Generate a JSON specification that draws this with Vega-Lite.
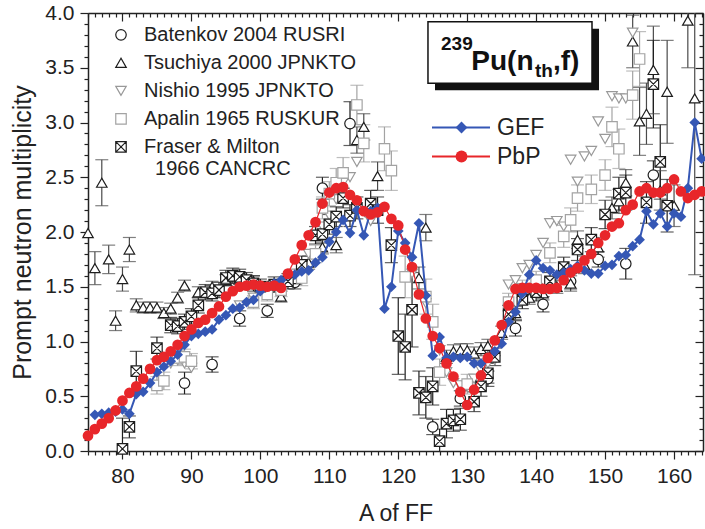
{
"$schema": "https://vega.github.io/schema/vega-lite/v6.json",
"width": 615, "height": 438,
"autosize": {"type": "none"},
"padding": {"left": 88, "top": 13, "right": 2, "bottom": 78},
"background": "white",
"config": {
  "view": {"stroke": null},
  "font": "Liberation Sans",
  "axis": {"grid": false, "labelFont": "Liberation Sans", "labelFontSize": 21, "labelColor": "#222222", "titleFont": "Liberation Sans", "titleFontSize": 23, "titleFontWeight": "normal", "titleColor": "#222222", "domainColor": "#222222", "domainWidth": 1.5, "tickColor": "#222222", "tickWidth": 1.2, "labelOverlap": false, "labelFlush": false},
  "legend": {"labelFont": "Liberation Sans", "labelColor": "#222222"}
},
"datasets": {
"exp": [
{"set":"Batenkov 2004 RUSRI","A":89,"v":0.62,"lo":0.52,"hi":0.72},
{"set":"Batenkov 2004 RUSRI","A":93,"v":0.79,"lo":0.72,"hi":0.86},
{"set":"Batenkov 2004 RUSRI","A":97,"v":1.21,"lo":1.14,"hi":1.28},
{"set":"Batenkov 2004 RUSRI","A":101,"v":1.28,"lo":1.22,"hi":1.34},
{"set":"Batenkov 2004 RUSRI","A":105,"v":1.54,"lo":1.48,"hi":1.60},
{"set":"Batenkov 2004 RUSRI","A":109,"v":2.40,"lo":2.30,"hi":2.50},
{"set":"Batenkov 2004 RUSRI","A":113,"v":2.99,"lo":2.79,"hi":3.19},
{"set":"Batenkov 2004 RUSRI","A":125,"v":0.22,"lo":0.15,"hi":0.29},
{"set":"Batenkov 2004 RUSRI","A":129,"v":0.48,"lo":0.41,"hi":0.55},
{"set":"Batenkov 2004 RUSRI","A":133,"v":0.66,"lo":0.59,"hi":0.73},
{"set":"Batenkov 2004 RUSRI","A":137,"v":1.12,"lo":1.05,"hi":1.19},
{"set":"Batenkov 2004 RUSRI","A":141,"v":1.34,"lo":1.27,"hi":1.41},
{"set":"Batenkov 2004 RUSRI","A":145,"v":1.55,"lo":1.48,"hi":1.62},
{"set":"Batenkov 2004 RUSRI","A":149,"v":1.75,"lo":1.68,"hi":1.82},
{"set":"Batenkov 2004 RUSRI","A":153,"v":1.71,"lo":1.57,"hi":1.85},
{"set":"Batenkov 2004 RUSRI","A":157,"v":2.52,"lo":2.39,"hi":2.65},
{"set":"Tsuchiya 2000 JPNKTO","A":75,"v":1.99},
{"set":"Tsuchiya 2000 JPNKTO","A":76,"v":1.67,"lo":1.52,"hi":1.82},
{"set":"Tsuchiya 2000 JPNKTO","A":77,"v":2.45,"lo":2.24,"hi":2.66},
{"set":"Tsuchiya 2000 JPNKTO","A":78,"v":1.75,"lo":1.62,"hi":1.88},
{"set":"Tsuchiya 2000 JPNKTO","A":79,"v":1.19,"lo":1.10,"hi":1.28},
{"set":"Tsuchiya 2000 JPNKTO","A":80,"v":1.57,"lo":1.46,"hi":1.68},
{"set":"Tsuchiya 2000 JPNKTO","A":81,"v":1.84,"lo":1.73,"hi":1.95},
{"set":"Tsuchiya 2000 JPNKTO","A":82,"v":1.33,"lo":1.27,"hi":1.39},
{"set":"Tsuchiya 2000 JPNKTO","A":83,"v":1.31,"lo":1.26,"hi":1.36},
{"set":"Tsuchiya 2000 JPNKTO","A":84,"v":1.31,"lo":1.26,"hi":1.36},
{"set":"Tsuchiya 2000 JPNKTO","A":85,"v":1.31,"lo":1.26,"hi":1.36},
{"set":"Tsuchiya 2000 JPNKTO","A":86,"v":1.26,"lo":1.21,"hi":1.31},
{"set":"Tsuchiya 2000 JPNKTO","A":87,"v":1.30,"lo":1.25,"hi":1.35},
{"set":"Tsuchiya 2000 JPNKTO","A":88,"v":1.40,"lo":1.35,"hi":1.45},
{"set":"Tsuchiya 2000 JPNKTO","A":89,"v":1.51,"lo":1.46,"hi":1.56},
{"set":"Tsuchiya 2000 JPNKTO","A":91,"v":1.45,"lo":1.40,"hi":1.50},
{"set":"Tsuchiya 2000 JPNKTO","A":93,"v":1.50,"lo":1.45,"hi":1.55},
{"set":"Tsuchiya 2000 JPNKTO","A":95,"v":1.56,"lo":1.51,"hi":1.61},
{"set":"Tsuchiya 2000 JPNKTO","A":97,"v":1.58,"lo":1.53,"hi":1.63},
{"set":"Tsuchiya 2000 JPNKTO","A":99,"v":1.55,"lo":1.50,"hi":1.60},
{"set":"Tsuchiya 2000 JPNKTO","A":101,"v":1.50,"lo":1.45,"hi":1.55},
{"set":"Tsuchiya 2000 JPNKTO","A":103,"v":1.41,"lo":1.36,"hi":1.46},
{"set":"Tsuchiya 2000 JPNKTO","A":105,"v":1.57,"lo":1.52,"hi":1.62},
{"set":"Tsuchiya 2000 JPNKTO","A":107,"v":1.72,"lo":1.66,"hi":1.78},
{"set":"Tsuchiya 2000 JPNKTO","A":109,"v":1.86,"lo":1.80,"hi":1.92},
{"set":"Tsuchiya 2000 JPNKTO","A":111,"v":1.88,"lo":1.81,"hi":1.95},
{"set":"Tsuchiya 2000 JPNKTO","A":114,"v":2.84,"lo":2.72,"hi":2.96},
{"set":"Tsuchiya 2000 JPNKTO","A":115,"v":2.96,"lo":2.84,"hi":3.08},
{"set":"Tsuchiya 2000 JPNKTO","A":117,"v":2.51,"lo":2.38,"hi":2.64},
{"set":"Tsuchiya 2000 JPNKTO","A":123,"v":1.58,"lo":1.48,"hi":1.68},
{"set":"Tsuchiya 2000 JPNKTO","A":124,"v":2.04,"lo":1.92,"hi":2.16},
{"set":"Tsuchiya 2000 JPNKTO","A":127,"v":0.86,"lo":0.80,"hi":0.92},
{"set":"Tsuchiya 2000 JPNKTO","A":128,"v":0.91,"lo":0.85,"hi":0.97},
{"set":"Tsuchiya 2000 JPNKTO","A":129,"v":0.92,"lo":0.86,"hi":0.98},
{"set":"Tsuchiya 2000 JPNKTO","A":130,"v":0.92,"lo":0.86,"hi":0.98},
{"set":"Tsuchiya 2000 JPNKTO","A":131,"v":0.89,"lo":0.83,"hi":0.95},
{"set":"Tsuchiya 2000 JPNKTO","A":132,"v":0.93,"lo":0.87,"hi":0.99},
{"set":"Tsuchiya 2000 JPNKTO","A":133,"v":0.96,"lo":0.90,"hi":1.02},
{"set":"Tsuchiya 2000 JPNKTO","A":135,"v":1.08,"lo":1.02,"hi":1.14},
{"set":"Tsuchiya 2000 JPNKTO","A":137,"v":1.26,"lo":1.20,"hi":1.32},
{"set":"Tsuchiya 2000 JPNKTO","A":139,"v":1.40,"lo":1.34,"hi":1.46},
{"set":"Tsuchiya 2000 JPNKTO","A":141,"v":1.44,"lo":1.38,"hi":1.50},
{"set":"Tsuchiya 2000 JPNKTO","A":143,"v":1.50,"lo":1.44,"hi":1.56},
{"set":"Tsuchiya 2000 JPNKTO","A":145,"v":1.53,"lo":1.46,"hi":1.60},
{"set":"Tsuchiya 2000 JPNKTO","A":146,"v":1.93,"lo":1.85,"hi":2.01},
{"set":"Tsuchiya 2000 JPNKTO","A":147,"v":1.70,"lo":1.62,"hi":1.78},
{"set":"Tsuchiya 2000 JPNKTO","A":149,"v":1.86,"lo":1.77,"hi":1.95},
{"set":"Tsuchiya 2000 JPNKTO","A":151,"v":2.22,"lo":2.12,"hi":2.32},
{"set":"Tsuchiya 2000 JPNKTO","A":152,"v":2.28,"lo":2.17,"hi":2.39},
{"set":"Tsuchiya 2000 JPNKTO","A":153,"v":2.45,"lo":2.33,"hi":2.57},
{"set":"Tsuchiya 2000 JPNKTO","A":154,"v":3.74,"lo":3.50,"hi":3.98},
{"set":"Tsuchiya 2000 JPNKTO","A":155,"v":3.01,"lo":2.70,"hi":3.32},
{"set":"Tsuchiya 2000 JPNKTO","A":156,"v":3.08,"lo":2.80,"hi":3.36},
{"set":"Tsuchiya 2000 JPNKTO","A":157,"v":3.48,"lo":3.08,"hi":3.88},
{"set":"Tsuchiya 2000 JPNKTO","A":158,"v":2.38,"lo":2.20,"hi":2.56},
{"set":"Tsuchiya 2000 JPNKTO","A":159,"v":3.28,"lo":2.81,"hi":3.75},
{"set":"Tsuchiya 2000 JPNKTO","A":160,"v":2.24,"lo":2.05,"hi":2.43},
{"set":"Tsuchiya 2000 JPNKTO","A":162,"v":3.93,"lo":3.50,"hi":4.36},
{"set":"Tsuchiya 2000 JPNKTO","A":163,"v":3.22,"lo":1.61,"hi":4.83},
{"set":"Nishio 1995 JPNKTO","A":86,"v":0.78},
{"set":"Nishio 1995 JPNKTO","A":87,"v":0.80},
{"set":"Nishio 1995 JPNKTO","A":88,"v":0.83},
{"set":"Nishio 1995 JPNKTO","A":89,"v":0.80},
{"set":"Nishio 1995 JPNKTO","A":90,"v":0.76},
{"set":"Nishio 1995 JPNKTO","A":97,"v":1.33},
{"set":"Nishio 1995 JPNKTO","A":99,"v":1.40},
{"set":"Nishio 1995 JPNKTO","A":101,"v":1.45},
{"set":"Nishio 1995 JPNKTO","A":103,"v":1.50},
{"set":"Nishio 1995 JPNKTO","A":105,"v":1.62},
{"set":"Nishio 1995 JPNKTO","A":107,"v":1.80},
{"set":"Nishio 1995 JPNKTO","A":109,"v":2.05},
{"set":"Nishio 1995 JPNKTO","A":110,"v":2.15},
{"set":"Nishio 1995 JPNKTO","A":111,"v":2.30},
{"set":"Nishio 1995 JPNKTO","A":112,"v":2.45},
{"set":"Nishio 1995 JPNKTO","A":113,"v":2.50},
{"set":"Nishio 1995 JPNKTO","A":114,"v":2.64},
{"set":"Nishio 1995 JPNKTO","A":116,"v":2.10},
{"set":"Nishio 1995 JPNKTO","A":122,"v":1.62},
{"set":"Nishio 1995 JPNKTO","A":124,"v":1.35},
{"set":"Nishio 1995 JPNKTO","A":126,"v":0.92},
{"set":"Nishio 1995 JPNKTO","A":127,"v":0.72},
{"set":"Nishio 1995 JPNKTO","A":128,"v":0.62},
{"set":"Nishio 1995 JPNKTO","A":129,"v":0.60},
{"set":"Nishio 1995 JPNKTO","A":130,"v":0.60},
{"set":"Nishio 1995 JPNKTO","A":131,"v":0.66},
{"set":"Nishio 1995 JPNKTO","A":132,"v":0.74},
{"set":"Nishio 1995 JPNKTO","A":133,"v":0.80},
{"set":"Nishio 1995 JPNKTO","A":134,"v":0.83},
{"set":"Nishio 1995 JPNKTO","A":136,"v":1.52},
{"set":"Nishio 1995 JPNKTO","A":137,"v":1.56},
{"set":"Nishio 1995 JPNKTO","A":138,"v":1.67},
{"set":"Nishio 1995 JPNKTO","A":139,"v":1.70},
{"set":"Nishio 1995 JPNKTO","A":140,"v":1.79},
{"set":"Nishio 1995 JPNKTO","A":141,"v":1.90},
{"set":"Nishio 1995 JPNKTO","A":142,"v":2.08},
{"set":"Nishio 1995 JPNKTO","A":143,"v":2.10},
{"set":"Nishio 1995 JPNKTO","A":144,"v":2.05},
{"set":"Nishio 1995 JPNKTO","A":145,"v":2.66},
{"set":"Nishio 1995 JPNKTO","A":146,"v":2.46},
{"set":"Nishio 1995 JPNKTO","A":147,"v":2.69},
{"set":"Nishio 1995 JPNKTO","A":148,"v":2.74},
{"set":"Nishio 1995 JPNKTO","A":149,"v":3.01},
{"set":"Nishio 1995 JPNKTO","A":150,"v":2.85},
{"set":"Nishio 1995 JPNKTO","A":151,"v":3.24},
{"set":"Nishio 1995 JPNKTO","A":152,"v":3.22},
{"set":"Nishio 1995 JPNKTO","A":153,"v":3.22},
{"set":"Nishio 1995 JPNKTO","A":154,"v":3.82},
{"set":"Apalin 1965 RUSKUR","A":85,"v":0.60,"lo":0.52,"hi":0.68},
{"set":"Apalin 1965 RUSKUR","A":86,"v":0.64,"lo":0.56,"hi":0.72},
{"set":"Apalin 1965 RUSKUR","A":88,"v":0.85,"lo":0.78,"hi":0.92},
{"set":"Apalin 1965 RUSKUR","A":89,"v":0.86,"lo":0.79,"hi":0.93},
{"set":"Apalin 1965 RUSKUR","A":90,"v":0.82,"lo":0.75,"hi":0.89},
{"set":"Apalin 1965 RUSKUR","A":99,"v":1.36,"lo":1.30,"hi":1.42},
{"set":"Apalin 1965 RUSKUR","A":101,"v":1.43,"lo":1.37,"hi":1.49},
{"set":"Apalin 1965 RUSKUR","A":103,"v":1.47,"lo":1.41,"hi":1.53},
{"set":"Apalin 1965 RUSKUR","A":106,"v":1.58,"lo":1.51,"hi":1.65},
{"set":"Apalin 1965 RUSKUR","A":108,"v":1.80,"lo":1.72,"hi":1.88},
{"set":"Apalin 1965 RUSKUR","A":109,"v":2.22,"lo":2.12,"hi":2.32},
{"set":"Apalin 1965 RUSKUR","A":110,"v":2.35,"lo":2.24,"hi":2.46},
{"set":"Apalin 1965 RUSKUR","A":111,"v":2.45,"lo":2.32,"hi":2.58},
{"set":"Apalin 1965 RUSKUR","A":112,"v":2.54,"lo":2.40,"hi":2.68},
{"set":"Apalin 1965 RUSKUR","A":114,"v":3.16,"lo":2.98,"hi":3.34},
{"set":"Apalin 1965 RUSKUR","A":115,"v":2.81,"lo":2.64,"hi":2.98},
{"set":"Apalin 1965 RUSKUR","A":118,"v":2.76,"lo":2.56,"hi":2.96},
{"set":"Apalin 1965 RUSKUR","A":119,"v":2.56,"lo":2.38,"hi":2.74},
{"set":"Apalin 1965 RUSKUR","A":121,"v":1.59,"lo":1.40,"hi":1.78},
{"set":"Apalin 1965 RUSKUR","A":124,"v":1.41,"lo":1.25,"hi":1.57},
{"set":"Apalin 1965 RUSKUR","A":125,"v":1.18,"lo":1.02,"hi":1.34},
{"set":"Apalin 1965 RUSKUR","A":126,"v":0.72,"lo":0.60,"hi":0.84},
{"set":"Apalin 1965 RUSKUR","A":130,"v":0.61,"lo":0.52,"hi":0.70},
{"set":"Apalin 1965 RUSKUR","A":136,"v":1.36,"lo":1.28,"hi":1.44},
{"set":"Apalin 1965 RUSKUR","A":138,"v":1.48,"lo":1.40,"hi":1.56},
{"set":"Apalin 1965 RUSKUR","A":140,"v":1.56,"lo":1.48,"hi":1.64},
{"set":"Apalin 1965 RUSKUR","A":142,"v":1.81,"lo":1.72,"hi":1.90},
{"set":"Apalin 1965 RUSKUR","A":144,"v":1.96,"lo":1.86,"hi":2.06},
{"set":"Apalin 1965 RUSKUR","A":145,"v":2.11,"lo":2.00,"hi":2.22},
{"set":"Apalin 1965 RUSKUR","A":146,"v":2.31,"lo":2.19,"hi":2.43},
{"set":"Apalin 1965 RUSKUR","A":148,"v":2.39,"lo":2.26,"hi":2.52},
{"set":"Apalin 1965 RUSKUR","A":150,"v":2.52,"lo":2.38,"hi":2.66},
{"set":"Apalin 1965 RUSKUR","A":151,"v":2.96,"lo":2.78,"hi":3.14},
{"set":"Apalin 1965 RUSKUR","A":152,"v":2.76,"lo":2.58,"hi":2.94},
{"set":"Apalin 1965 RUSKUR","A":154,"v":3.25,"lo":3.03,"hi":3.47},
{"set":"Apalin 1965 RUSKUR","A":155,"v":3.58,"lo":3.33,"hi":3.83},
{"set":"Fraser & Milton 1966 CANCRC","A":80,"v":0.02,"lo":-0.26,"hi":0.30},
{"set":"Fraser & Milton 1966 CANCRC","A":81,"v":0.22,"lo":0.12,"hi":0.32},
{"set":"Fraser & Milton 1966 CANCRC","A":82,"v":0.73,"lo":0.55,"hi":0.91},
{"set":"Fraser & Milton 1966 CANCRC","A":85,"v":0.94,"lo":0.84,"hi":1.04},
{"set":"Fraser & Milton 1966 CANCRC","A":87,"v":1.15,"lo":1.08,"hi":1.22},
{"set":"Fraser & Milton 1966 CANCRC","A":88,"v":1.14,"lo":1.07,"hi":1.21},
{"set":"Fraser & Milton 1966 CANCRC","A":89,"v":1.18,"lo":1.11,"hi":1.25},
{"set":"Fraser & Milton 1966 CANCRC","A":90,"v":1.23,"lo":1.16,"hi":1.30},
{"set":"Fraser & Milton 1966 CANCRC","A":91,"v":1.33,"lo":1.26,"hi":1.40},
{"set":"Fraser & Milton 1966 CANCRC","A":92,"v":1.45,"lo":1.38,"hi":1.52},
{"set":"Fraser & Milton 1966 CANCRC","A":93,"v":1.44,"lo":1.37,"hi":1.51},
{"set":"Fraser & Milton 1966 CANCRC","A":94,"v":1.47,"lo":1.40,"hi":1.54},
{"set":"Fraser & Milton 1966 CANCRC","A":95,"v":1.58,"lo":1.51,"hi":1.65},
{"set":"Fraser & Milton 1966 CANCRC","A":96,"v":1.60,"lo":1.53,"hi":1.67},
{"set":"Fraser & Milton 1966 CANCRC","A":97,"v":1.59,"lo":1.52,"hi":1.66},
{"set":"Fraser & Milton 1966 CANCRC","A":98,"v":1.56,"lo":1.49,"hi":1.63},
{"set":"Fraser & Milton 1966 CANCRC","A":99,"v":1.53,"lo":1.46,"hi":1.60},
{"set":"Fraser & Milton 1966 CANCRC","A":100,"v":1.50,"lo":1.43,"hi":1.57},
{"set":"Fraser & Milton 1966 CANCRC","A":102,"v":1.52,"lo":1.45,"hi":1.59},
{"set":"Fraser & Milton 1966 CANCRC","A":104,"v":1.55,"lo":1.48,"hi":1.62},
{"set":"Fraser & Milton 1966 CANCRC","A":106,"v":1.70,"lo":1.62,"hi":1.78},
{"set":"Fraser & Milton 1966 CANCRC","A":108,"v":1.97,"lo":1.89,"hi":2.05},
{"set":"Fraser & Milton 1966 CANCRC","A":109,"v":1.98,"lo":1.90,"hi":2.06},
{"set":"Fraser & Milton 1966 CANCRC","A":110,"v":2.07,"lo":1.98,"hi":2.16},
{"set":"Fraser & Milton 1966 CANCRC","A":111,"v":2.14,"lo":2.05,"hi":2.23},
{"set":"Fraser & Milton 1966 CANCRC","A":112,"v":2.31,"lo":2.22,"hi":2.40},
{"set":"Fraser & Milton 1966 CANCRC","A":113,"v":2.15,"lo":2.05,"hi":2.25},
{"set":"Fraser & Milton 1966 CANCRC","A":114,"v":2.22,"lo":2.12,"hi":2.32},
{"set":"Fraser & Milton 1966 CANCRC","A":116,"v":2.26,"lo":2.14,"hi":2.38},
{"set":"Fraser & Milton 1966 CANCRC","A":117,"v":2.20,"lo":2.08,"hi":2.32},
{"set":"Fraser & Milton 1966 CANCRC","A":119,"v":1.88,"lo":1.72,"hi":2.04},
{"set":"Fraser & Milton 1966 CANCRC","A":120,"v":1.05,"lo":0.70,"hi":1.40},
{"set":"Fraser & Milton 1966 CANCRC","A":121,"v":0.95,"lo":0.65,"hi":1.25},
{"set":"Fraser & Milton 1966 CANCRC","A":122,"v":1.29,"lo":0.95,"hi":1.63},
{"set":"Fraser & Milton 1966 CANCRC","A":123,"v":0.53,"lo":0.33,"hi":0.73},
{"set":"Fraser & Milton 1966 CANCRC","A":124,"v":0.49,"lo":0.30,"hi":0.68},
{"set":"Fraser & Milton 1966 CANCRC","A":125,"v":0.59,"lo":0.42,"hi":0.76},
{"set":"Fraser & Milton 1966 CANCRC","A":126,"v":0.09,"lo":-0.02,"hi":0.20},
{"set":"Fraser & Milton 1966 CANCRC","A":127,"v":0.25,"lo":0.12,"hi":0.38},
{"set":"Fraser & Milton 1966 CANCRC","A":128,"v":0.28,"lo":0.18,"hi":0.38},
{"set":"Fraser & Milton 1966 CANCRC","A":129,"v":0.29,"lo":0.19,"hi":0.39},
{"set":"Fraser & Milton 1966 CANCRC","A":131,"v":0.45,"lo":0.36,"hi":0.54},
{"set":"Fraser & Milton 1966 CANCRC","A":132,"v":0.59,"lo":0.50,"hi":0.68},
{"set":"Fraser & Milton 1966 CANCRC","A":133,"v":0.71,"lo":0.62,"hi":0.80},
{"set":"Fraser & Milton 1966 CANCRC","A":134,"v":0.86,"lo":0.78,"hi":0.94},
{"set":"Fraser & Milton 1966 CANCRC","A":136,"v":1.25,"lo":1.17,"hi":1.33},
{"set":"Fraser & Milton 1966 CANCRC","A":138,"v":1.38,"lo":1.30,"hi":1.46},
{"set":"Fraser & Milton 1966 CANCRC","A":140,"v":1.45,"lo":1.37,"hi":1.53},
{"set":"Fraser & Milton 1966 CANCRC","A":142,"v":1.55,"lo":1.47,"hi":1.63},
{"set":"Fraser & Milton 1966 CANCRC","A":144,"v":1.68,"lo":1.59,"hi":1.77},
{"set":"Fraser & Milton 1966 CANCRC","A":146,"v":1.84,"lo":1.74,"hi":1.94},
{"set":"Fraser & Milton 1966 CANCRC","A":148,"v":1.93,"lo":1.82,"hi":2.04},
{"set":"Fraser & Milton 1966 CANCRC","A":150,"v":2.16,"lo":2.03,"hi":2.29},
{"set":"Fraser & Milton 1966 CANCRC","A":152,"v":2.35,"lo":2.20,"hi":2.50},
{"set":"Fraser & Milton 1966 CANCRC","A":153,"v":2.36,"lo":2.20,"hi":2.52},
{"set":"Fraser & Milton 1966 CANCRC","A":156,"v":2.27,"lo":2.08,"hi":2.46},
{"set":"Fraser & Milton 1966 CANCRC","A":157,"v":3.35,"lo":2.95,"hi":3.75},
{"set":"Fraser & Milton 1966 CANCRC","A":158,"v":2.64,"lo":2.30,"hi":2.98},
{"set":"Fraser & Milton 1966 CANCRC","A":159,"v":2.24,"lo":2.00,"hi":2.48}
],
"model": [
{"model":"GEF","A":76,"v":0.33},{"model":"GEF","A":77,"v":0.34},{"model":"GEF","A":78,"v":0.35},{"model":"GEF","A":79,"v":0.36},{"model":"GEF","A":80,"v":0.38},
{"model":"GEF","A":81,"v":0.34},{"model":"GEF","A":82,"v":0.52},{"model":"GEF","A":83,"v":0.54},{"model":"GEF","A":84,"v":0.62},{"model":"GEF","A":85,"v":0.72},
{"model":"GEF","A":86,"v":0.77},{"model":"GEF","A":87,"v":0.82},{"model":"GEF","A":88,"v":0.88},{"model":"GEF","A":89,"v":0.97},{"model":"GEF","A":90,"v":1.05},
{"model":"GEF","A":91,"v":1.07},{"model":"GEF","A":92,"v":1.09},{"model":"GEF","A":93,"v":1.11},{"model":"GEF","A":94,"v":1.20},{"model":"GEF","A":95,"v":1.24},
{"model":"GEF","A":96,"v":1.30},{"model":"GEF","A":97,"v":1.31},{"model":"GEF","A":98,"v":1.36},{"model":"GEF","A":99,"v":1.38},{"model":"GEF","A":100,"v":1.46},
{"model":"GEF","A":101,"v":1.50},{"model":"GEF","A":102,"v":1.53},{"model":"GEF","A":103,"v":1.56},{"model":"GEF","A":104,"v":1.61},{"model":"GEF","A":105,"v":1.61},
{"model":"GEF","A":106,"v":1.64},{"model":"GEF","A":107,"v":1.65},{"model":"GEF","A":108,"v":1.72},{"model":"GEF","A":109,"v":1.77},{"model":"GEF","A":110,"v":1.91},
{"model":"GEF","A":111,"v":2.00},{"model":"GEF","A":112,"v":2.11},{"model":"GEF","A":113,"v":1.99},{"model":"GEF","A":114,"v":2.20},{"model":"GEF","A":115,"v":1.97},
{"model":"GEF","A":116,"v":2.19},{"model":"GEF","A":117,"v":2.22},{"model":"GEF","A":118,"v":1.30},{"model":"GEF","A":119,"v":1.50},{"model":"GEF","A":120,"v":2.01},
{"model":"GEF","A":121,"v":1.90},{"model":"GEF","A":122,"v":1.77},{"model":"GEF","A":123,"v":2.08},{"model":"GEF","A":124,"v":1.42},{"model":"GEF","A":125,"v":0.87},
{"model":"GEF","A":126,"v":1.04},{"model":"GEF","A":127,"v":0.85},{"model":"GEF","A":128,"v":0.86},{"model":"GEF","A":129,"v":0.85},{"model":"GEF","A":130,"v":0.86},
{"model":"GEF","A":131,"v":0.80},{"model":"GEF","A":132,"v":0.80},{"model":"GEF","A":133,"v":0.85},{"model":"GEF","A":134,"v":0.91},{"model":"GEF","A":135,"v":0.98},
{"model":"GEF","A":136,"v":1.18},{"model":"GEF","A":137,"v":1.27},{"model":"GEF","A":138,"v":1.44},{"model":"GEF","A":139,"v":1.61},{"model":"GEF","A":140,"v":1.74},
{"model":"GEF","A":141,"v":1.67},{"model":"GEF","A":142,"v":1.65},{"model":"GEF","A":143,"v":1.61},{"model":"GEF","A":144,"v":1.63},{"model":"GEF","A":145,"v":1.66},
{"model":"GEF","A":146,"v":1.69},{"model":"GEF","A":147,"v":1.65},{"model":"GEF","A":148,"v":1.62},{"model":"GEF","A":149,"v":1.62},{"model":"GEF","A":150,"v":1.69},
{"model":"GEF","A":151,"v":1.70},{"model":"GEF","A":152,"v":1.78},{"model":"GEF","A":153,"v":1.79},{"model":"GEF","A":154,"v":1.87},{"model":"GEF","A":155,"v":1.93},
{"model":"GEF","A":156,"v":2.19},{"model":"GEF","A":157,"v":2.07},{"model":"GEF","A":158,"v":2.17},{"model":"GEF","A":159,"v":2.05},{"model":"GEF","A":160,"v":2.17},
{"model":"GEF","A":161,"v":2.14},{"model":"GEF","A":162,"v":2.40},{"model":"GEF","A":163,"v":3.00},{"model":"GEF","A":164,"v":2.67},
{"model":"PbP","A":75,"v":0.14},{"model":"PbP","A":76,"v":0.20},{"model":"PbP","A":77,"v":0.25},{"model":"PbP","A":78,"v":0.30},{"model":"PbP","A":79,"v":0.37},
{"model":"PbP","A":80,"v":0.46},{"model":"PbP","A":81,"v":0.53},{"model":"PbP","A":82,"v":0.59},{"model":"PbP","A":83,"v":0.66},{"model":"PbP","A":84,"v":0.75},
{"model":"PbP","A":85,"v":0.83},{"model":"PbP","A":86,"v":0.86},{"model":"PbP","A":87,"v":0.91},{"model":"PbP","A":88,"v":0.97},{"model":"PbP","A":89,"v":1.05},
{"model":"PbP","A":90,"v":1.11},{"model":"PbP","A":91,"v":1.17},{"model":"PbP","A":92,"v":1.20},{"model":"PbP","A":93,"v":1.26},{"model":"PbP","A":94,"v":1.32},
{"model":"PbP","A":95,"v":1.41},{"model":"PbP","A":96,"v":1.46},{"model":"PbP","A":97,"v":1.50},{"model":"PbP","A":98,"v":1.51},{"model":"PbP","A":99,"v":1.52},
{"model":"PbP","A":100,"v":1.51},{"model":"PbP","A":101,"v":1.50},{"model":"PbP","A":102,"v":1.51},{"model":"PbP","A":103,"v":1.49},{"model":"PbP","A":104,"v":1.62},
{"model":"PbP","A":105,"v":1.75},{"model":"PbP","A":106,"v":1.88},{"model":"PbP","A":107,"v":1.97},{"model":"PbP","A":108,"v":2.09},{"model":"PbP","A":109,"v":2.26},
{"model":"PbP","A":110,"v":2.36},{"model":"PbP","A":111,"v":2.40},{"model":"PbP","A":112,"v":2.41},{"model":"PbP","A":113,"v":2.34},{"model":"PbP","A":114,"v":2.29},
{"model":"PbP","A":115,"v":2.19},{"model":"PbP","A":116,"v":2.16},{"model":"PbP","A":117,"v":2.18},{"model":"PbP","A":118,"v":2.23},{"model":"PbP","A":119,"v":2.12},
{"model":"PbP","A":120,"v":2.06},{"model":"PbP","A":121,"v":1.84},{"model":"PbP","A":122,"v":1.68},{"model":"PbP","A":123,"v":1.43},{"model":"PbP","A":124,"v":1.21},
{"model":"PbP","A":125,"v":1.05},{"model":"PbP","A":126,"v":0.94},{"model":"PbP","A":127,"v":0.80},{"model":"PbP","A":128,"v":0.68},{"model":"PbP","A":129,"v":0.54},
{"model":"PbP","A":130,"v":0.42},{"model":"PbP","A":131,"v":0.56},{"model":"PbP","A":132,"v":0.69},{"model":"PbP","A":133,"v":0.85},{"model":"PbP","A":134,"v":1.01},
{"model":"PbP","A":135,"v":1.15},{"model":"PbP","A":136,"v":1.33},{"model":"PbP","A":137,"v":1.48},{"model":"PbP","A":138,"v":1.49},{"model":"PbP","A":139,"v":1.49},
{"model":"PbP","A":140,"v":1.49},{"model":"PbP","A":141,"v":1.48},{"model":"PbP","A":142,"v":1.48},{"model":"PbP","A":143,"v":1.49},{"model":"PbP","A":144,"v":1.56},
{"model":"PbP","A":145,"v":1.63},{"model":"PbP","A":146,"v":1.67},{"model":"PbP","A":147,"v":1.74},{"model":"PbP","A":148,"v":1.80},{"model":"PbP","A":149,"v":1.90},
{"model":"PbP","A":150,"v":1.97},{"model":"PbP","A":151,"v":2.05},{"model":"PbP","A":152,"v":2.08},{"model":"PbP","A":153,"v":2.20},{"model":"PbP","A":154,"v":2.25},
{"model":"PbP","A":155,"v":2.37},{"model":"PbP","A":156,"v":2.40},{"model":"PbP","A":157,"v":2.36},{"model":"PbP","A":158,"v":2.36},{"model":"PbP","A":159,"v":2.40},
{"model":"PbP","A":160,"v":2.48},{"model":"PbP","A":161,"v":2.37},{"model":"PbP","A":162,"v":2.31},{"model":"PbP","A":163,"v":2.34},{"model":"PbP","A":164,"v":2.37}
]
},
"layer": [
{
  "data": {"name": "exp"},
  "transform": [{"filter": "isValid(datum.lo)"}],
  "mark": {"type": "rule", "strokeWidth": 1.2, "clip": true},
  "encoding": {
    "x": {"field": "A", "type": "quantitative", "scale": {"domain": [75, 164.2], "nice": false, "zero": false},
      "axis": {"orient": "bottom", "title": "A of FF", "values": [75,76,77,78,79,80,81,82,83,84,85,86,87,88,89,90,91,92,93,94,95,96,97,98,99,100,101,102,103,104,105,106,107,108,109,110,111,112,113,114,115,116,117,118,119,120,121,122,123,124,125,126,127,128,129,130,131,132,133,134,135,136,137,138,139,140,141,142,143,144,145,146,147,148,149,150,151,152,153,154,155,156,157,158,159,160,161,162,163,164],
        "labelExpr": "datum.value % 10 === 0 ? datum.label : ''",
        "tickSize": {"condition": {"test": "datum.value % 10 === 0", "value": 8}, "value": 4},
        "labelPadding": 6, "titlePadding": 16}},
    "y": {"field": "lo", "type": "quantitative", "scale": {"domain": [0, 4], "nice": false, "zero": false},
      "axis": {"orient": "left", "title": "Prompt neutron multiplicity", "titleFontSize": 25, "values": [0,0.1,0.2,0.3,0.4,0.5,0.6,0.7,0.8,0.9,1,1.1,1.2,1.3,1.4,1.5,1.6,1.7,1.8,1.9,2,2.1,2.2,2.3,2.4,2.5,2.6,2.7,2.8,2.9,3,3.1,3.2,3.3,3.4,3.5,3.6,3.7,3.8,3.9,4],
        "labelExpr": "round(datum.value*10) % 5 === 0 ? format(datum.value, '.1f') : ''",
        "tickSize": {"condition": {"test": "round(datum.value*10) % 5 === 0", "value": 8}, "value": 4},
        "labelPadding": 6, "titlePadding": 9}},
    "y2": {"field": "hi"},
    "stroke": {"condition": [{"test": "datum.set === 'Nishio 1995 JPNKTO' || datum.set === 'Apalin 1965 RUSKUR'", "value": "#a3a3a3"}, {"test": "datum.set === 'Tsuchiya 2000 JPNKTO'", "value": "#4a4a4a"}], "value": "#1e1e1e"}
  }
},
{
  "data": {"name": "exp"},
  "transform": [{"filter": "isValid(datum.lo)"}],
  "mark": {"type": "tick", "orient": "horizontal", "size": 13, "thickness": 1.2, "clip": true},
  "encoding": {
    "x": {"field": "A", "type": "quantitative", "scale": {"domain": [75, 164.2], "nice": false, "zero": false},
      "axis": {"orient": "top", "title": null, "labels": false, "values": [75,76,77,78,79,80,81,82,83,84,85,86,87,88,89,90,91,92,93,94,95,96,97,98,99,100,101,102,103,104,105,106,107,108,109,110,111,112,113,114,115,116,117,118,119,120,121,122,123,124,125,126,127,128,129,130,131,132,133,134,135,136,137,138,139,140,141,142,143,144,145,146,147,148,149,150,151,152,153,154,155,156,157,158,159,160,161,162,163,164],
        "tickSize": {"condition": {"test": "datum.value % 10 === 0", "value": -8}, "value": -4}}},
    "y": {"field": "lo", "type": "quantitative", "scale": {"domain": [0, 4], "nice": false, "zero": false},
      "axis": {"orient": "right", "title": null, "labels": false, "values": [0,0.1,0.2,0.3,0.4,0.5,0.6,0.7,0.8,0.9,1,1.1,1.2,1.3,1.4,1.5,1.6,1.7,1.8,1.9,2,2.1,2.2,2.3,2.4,2.5,2.6,2.7,2.8,2.9,3,3.1,3.2,3.3,3.4,3.5,3.6,3.7,3.8,3.9,4],
        "tickSize": {"condition": {"test": "round(datum.value*10) % 5 === 0", "value": -8}, "value": -4}}},
    "color": {"condition": [{"test": "datum.set === 'Nishio 1995 JPNKTO' || datum.set === 'Apalin 1965 RUSKUR'", "value": "#a3a3a3"}, {"test": "datum.set === 'Tsuchiya 2000 JPNKTO'", "value": "#4a4a4a"}], "value": "#1e1e1e"}
  }
},
{
  "data": {"name": "exp"},
  "transform": [{"filter": "isValid(datum.hi)"}],
  "mark": {"type": "tick", "orient": "horizontal", "size": 13, "thickness": 1.2, "clip": true},
  "encoding": {
    "x": {"field": "A", "type": "quantitative", "scale": {"domain": [75, 164.2], "nice": false, "zero": false}, "axis": null},
    "y": {"field": "hi", "type": "quantitative", "scale": {"domain": [0, 4], "nice": false, "zero": false}, "axis": null},
    "color": {"condition": [{"test": "datum.set === 'Nishio 1995 JPNKTO' || datum.set === 'Apalin 1965 RUSKUR'", "value": "#a3a3a3"}, {"test": "datum.set === 'Tsuchiya 2000 JPNKTO'", "value": "#4a4a4a"}], "value": "#1e1e1e"}
  }
},
{
  "data": {"name": "exp"},
  "mark": {"type": "point", "fill": "white", "fillOpacity": 1, "strokeWidth": 1.2, "size": 110, "opacity": 1},
  "encoding": {
    "x": {"field": "A", "type": "quantitative", "scale": {"domain": [75, 164.2], "nice": false, "zero": false}, "axis": null},
    "y": {"field": "v", "type": "quantitative", "scale": {"domain": [0, 4], "nice": false, "zero": false}, "axis": null},
    "shape": {"field": "set", "type": "nominal",
      "scale": {"domain": ["Batenkov 2004 RUSRI", "Tsuchiya 2000 JPNKTO", "Nishio 1995 JPNKTO", "Apalin 1965 RUSKUR", "Fraser & Milton 1966 CANCRC"],
        "range": ["circle", "triangle-up", "triangle-down", "square", "M-1,-1L1,-1L1,1L-1,1ZM-1,-1L1,1M1,-1L-1,1"]},
      "legend": {"title": null, "orient": "none", "legendX": 23, "legendY": 8, "padding": 0, "labelFontSize": 20, "labelLimit": 400, "symbolSize": 110, "symbolStrokeWidth": 1.2, "symbolFillColor": "white", "clipHeight": 27.7, "rowPadding": 0, "labelOffset": 13, "labelBaseline": "middle",
        "labelExpr": "datum.label === 'Fraser & Milton 1966 CANCRC' ? ['Fraser & Milton', '\u200b\u00a0\u00a01966 CANCRC'] : datum.label"}},
    "stroke": {"field": "set", "type": "nominal",
      "scale": {"domain": ["Batenkov 2004 RUSRI", "Tsuchiya 2000 JPNKTO", "Nishio 1995 JPNKTO", "Apalin 1965 RUSKUR", "Fraser & Milton 1966 CANCRC"],
        "range": ["#1e1e1e", "#1e1e1e", "#999999", "#a3a3a3", "#1e1e1e"]},
      "legend": {"title": null, "orient": "none", "legendX": 23, "legendY": 8, "padding": 0, "labelFontSize": 20, "labelLimit": 400, "symbolSize": 110, "symbolStrokeWidth": 1.2, "symbolFillColor": "white", "clipHeight": 27.7, "rowPadding": 0, "labelOffset": 13, "labelBaseline": "middle",
        "labelExpr": "datum.label === 'Fraser & Milton 1966 CANCRC' ? ['Fraser & Milton', '\u200b\u00a0\u00a01966 CANCRC'] : datum.label"}}
  }
},
{
  "data": {"name": "model"},
  "transform": [{"filter": "datum.model === 'GEF'"}],
  "mark": {"type": "line", "strokeWidth": 2},
  "encoding": {
    "x": {"field": "A", "type": "quantitative", "scale": {"domain": [75, 164.2], "nice": false, "zero": false}, "axis": null},
    "y": {"field": "v", "type": "quantitative", "scale": {"domain": [0, 4], "nice": false, "zero": false}, "axis": null},
    "stroke": {"field": "model", "type": "nominal", "scale": {"domain": ["GEF", "PbP"], "range": ["#3557b5", "#e8262a"]},
      "legend": {"title": null, "orient": "none", "legendX": 343, "legendY": 100, "padding": 0, "labelFontSize": 23, "labelOffset": 6, "symbolType": "stroke", "symbolSize": 3364, "symbolStrokeWidth": 1.8, "clipHeight": 29, "rowPadding": 0}}
  }
},
{
  "data": {"name": "model"},
  "transform": [{"filter": "datum.model === 'PbP'"}],
  "mark": {"type": "line", "stroke": "#e8262a", "strokeWidth": 1.2},
  "encoding": {
    "x": {"field": "A", "type": "quantitative", "scale": {"domain": [75, 164.2], "nice": false, "zero": false}, "axis": null},
    "y": {"field": "v", "type": "quantitative", "scale": {"domain": [0, 4], "nice": false, "zero": false}, "axis": null}
  }
},
{
  "data": {"name": "model"},
  "mark": {"type": "point", "filled": true, "size": 115, "opacity": 1, "strokeWidth": 0},
  "encoding": {
    "x": {"field": "A", "type": "quantitative", "scale": {"domain": [75, 164.2], "nice": false, "zero": false}, "axis": null},
    "y": {"field": "v", "type": "quantitative", "scale": {"domain": [0, 4], "nice": false, "zero": false}, "axis": null},
    "color": {"field": "model", "type": "nominal", "scale": {"domain": ["GEF", "PbP"], "range": ["#3557b5", "#e8262a"]},
      "legend": {"title": null, "orient": "none", "legendX": 343, "legendY": 100, "padding": 0, "labelFontSize": 23, "labelOffset": 6, "labelOpacity": 0, "labelExpr": "''", "symbolSize": 140, "symbolOffset": 19, "symbolStrokeWidth": 0, "clipHeight": 29, "rowPadding": 0}},
    "shape": {"field": "model", "type": "nominal", "scale": {"domain": ["GEF", "PbP"], "range": ["diamond", "circle"]},
      "legend": {"title": null, "orient": "none", "legendX": 343, "legendY": 100, "padding": 0, "labelFontSize": 23, "labelOffset": 6, "labelOpacity": 0, "labelExpr": "''", "symbolSize": 140, "symbolOffset": 19, "symbolStrokeWidth": 0, "clipHeight": 29, "rowPadding": 0}}
  }
},
{
  "data": {"values": [{}]},
  "mark": {"type": "rect", "fill": "#111111"},
  "encoding": {
    "x": {"datum": 125.33, "type": "quantitative", "scale": {"domain": [75, 164.2], "nice": false, "zero": false}, "axis": null},
    "x2": {"datum": 149.12},
    "y": {"datum": 3.857, "type": "quantitative", "scale": {"domain": [0, 4], "nice": false, "zero": false}, "axis": null},
    "y2": {"datum": 3.294}
  }
},
{
  "data": {"values": [{}]},
  "mark": {"type": "rect", "fill": "white", "stroke": "#111111", "strokeWidth": 1.5},
  "encoding": {
    "x": {"datum": 124.31, "type": "quantitative", "scale": {"domain": [75, 164.2], "nice": false, "zero": false}, "axis": null},
    "x2": {"datum": 148.1},
    "y": {"datum": 3.921, "type": "quantitative", "scale": {"domain": [0, 4], "nice": false, "zero": false}, "axis": null},
    "y2": {"datum": 3.358}
  }
},
{
  "data": {"values": [{}]},
  "mark": {"type": "text", "text": "239", "fontWeight": "bold", "fontSize": 19, "align": "left", "baseline": "alphabetic", "color": "#111111", "font": "Liberation Sans"},
  "encoding": {
    "x": {"datum": 126.2, "type": "quantitative", "scale": {"domain": [75, 164.2], "nice": false, "zero": false}, "axis": null},
    "y": {"datum": 3.662, "type": "quantitative", "scale": {"domain": [0, 4], "nice": false, "zero": false}, "axis": null}
  }
},
{
  "data": {"values": [{}]},
  "mark": {"type": "text", "text": "Pu(n", "fontWeight": "bold", "fontSize": 28, "align": "left", "baseline": "alphabetic", "color": "#111111", "font": "Liberation Sans"},
  "encoding": {
    "x": {"datum": 130.59, "type": "quantitative", "scale": {"domain": [75, 164.2], "nice": false, "zero": false}, "axis": null},
    "y": {"datum": 3.479, "type": "quantitative", "scale": {"domain": [0, 4], "nice": false, "zero": false}, "axis": null}
  }
},
{
  "data": {"values": [{}]},
  "mark": {"type": "text", "text": "th", "fontWeight": "bold", "fontSize": 19, "align": "left", "baseline": "alphabetic", "color": "#111111", "font": "Liberation Sans"},
  "encoding": {
    "x": {"datum": 139.83, "type": "quantitative", "scale": {"domain": [75, 164.2], "nice": false, "zero": false}, "axis": null},
    "y": {"datum": 3.416, "type": "quantitative", "scale": {"domain": [0, 4], "nice": false, "zero": false}, "axis": null}
  }
},
{
  "data": {"values": [{}]},
  "mark": {"type": "text", "text": ",f)", "fontWeight": "bold", "fontSize": 28, "align": "left", "baseline": "alphabetic", "color": "#111111", "font": "Liberation Sans"},
  "encoding": {
    "x": {"datum": 142.44, "type": "quantitative", "scale": {"domain": [75, 164.2], "nice": false, "zero": false}, "axis": null},
    "y": {"datum": 3.479, "type": "quantitative", "scale": {"domain": [0, 4], "nice": false, "zero": false}, "axis": null}
  }
}
],
"resolve": {"scale": {"shape": "independent", "color": "independent", "stroke": "independent"}, "axis": {"x": "independent", "y": "independent"}}
}
